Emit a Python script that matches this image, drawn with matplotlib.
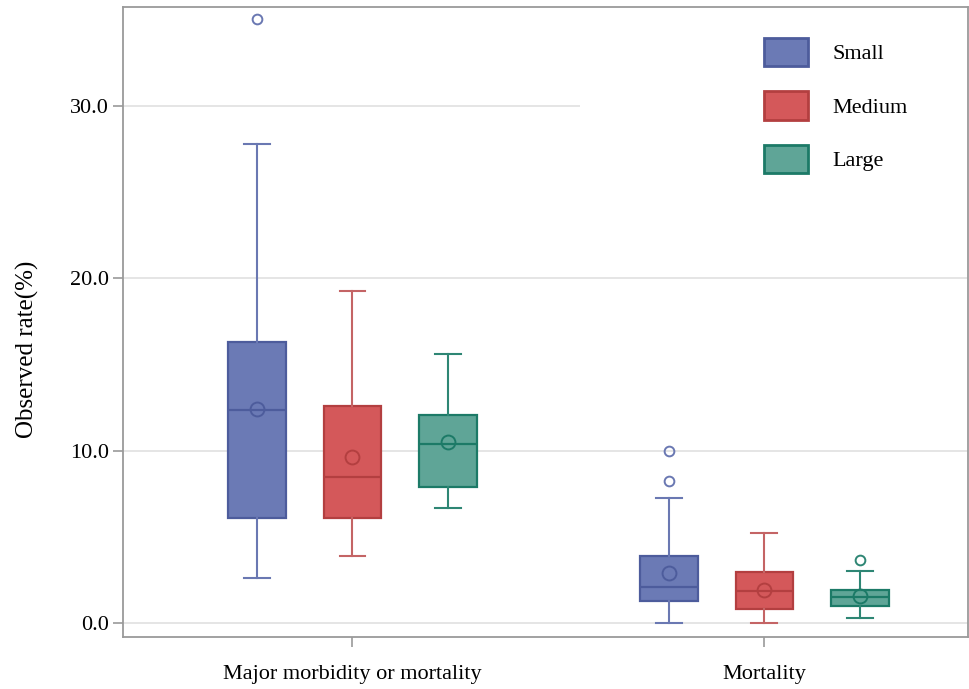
import matplotlib.pyplot as plt
from matplotlib.patches import Patch, Rectangle
import numpy as np

plt.rcParams['font.family'] = ['Liberation Serif', 'DejaVu Serif']

groups = ['Major morbidity or mortality', 'Mortality']
sizes = ['Small', 'Medium', 'Large']

# per size: [major, mortality]
whislo = {'Small': [2.6, 0.0], 'Medium': [3.9, 0.0], 'Large': [6.7, 0.3]}
q1 = {'Small': [6.1, 1.3], 'Medium': [6.1, 0.83], 'Large': [7.9, 0.97]}
med = {'Small': [12.35, 2.09], 'Medium': [8.47, 1.86], 'Large': [10.39, 1.51]}
mean = {'Small': [12.4, 2.92], 'Medium': [9.63, 1.93], 'Large': [10.5, 1.57]}
q3 = {'Small': [16.3, 3.87], 'Medium': [12.6, 2.94], 'Large': [12.07, 1.92]}
whishi = {'Small': [27.8, 7.27], 'Medium': [19.27, 5.22], 'Large': [15.6, 3.02]}
fliers = {'Small': [[35.05], [8.22, 10.0]], 'Medium': [[], []], 'Large': [[], [3.64]]}

fill = {'Small': '#6b7ab5', 'Medium': '#d4585a', 'Large': '#5fa597'}
edge = {'Small': '#4d5c9c', 'Medium': '#b33f40', 'Large': '#1c7a67'}
whisk = {'Small': '#6a78b2', 'Medium': '#c46465', 'Large': '#2e8674'}

fig = plt.figure(figsize=(9.69, 6.89), dpi=100)
ax = fig.add_axes([123/969, 1-637/689, 845/969, 630/689])

offs = [-0.2325, 0, 0.2325]
for k, s in enumerate(sizes):
    stats = []
    for g in range(2):
        stats.append(dict(whislo=whislo[s][g], q1=q1[s][g], med=med[s][g], mean=mean[s][g],
                          q3=q3[s][g], whishi=whishi[s][g], fliers=np.array(fliers[s][g])))
    pos = [g + offs[k] for g in range(2)]
    ax.bxp(stats, positions=pos, widths=0.14, capwidths=0.063, patch_artist=True,
           showmeans=True, manage_ticks=False,
           boxprops=dict(facecolor=fill[s], edgecolor=edge[s], linewidth=1.6),
           medianprops=dict(color=edge[s], linewidth=1.6),
           whiskerprops=dict(color=whisk[s], linewidth=1.5),
           capprops=dict(color=whisk[s], linewidth=1.5),
           meanprops=dict(marker='o', markerfacecolor='none', markeredgecolor=edge[s],
                          markersize=10, markeredgewidth=1.4),
           flierprops=dict(marker='o', markerfacecolor='none', markeredgecolor=whisk[s],
                           markersize=7, markeredgewidth=1.4))

ax.set_xlim(-0.557, 1.494)
ax.set_ylim(-0.81, 35.75)
ax.set_xticks([0, 1])
ax.set_xticklabels(groups, fontsize=16)
ax.set_yticks([0, 10, 20, 30])
ax.set_yticklabels(['0.0', '10.0', '20.0', '30.0'], fontsize=16)
ax.set_ylabel('Observed rate(%)', fontsize=18)
ax.yaxis.set_label_coords(-0.099, 0.456)
ax.yaxis.grid(True, color='#e3e3e3', linewidth=1.3)
ax.set_axisbelow(True)
for sp in ax.spines.values():
    sp.set_color('#9a9a9a')
    sp.set_linewidth(1.3)
ax.tick_params(axis='both', colors='#9a9a9a', labelcolor='black', length=7, width=1.2)
ax.tick_params(axis='x', pad=13)
ax.tick_params(axis='y', pad=3)

# white panel behind the legend
ax.add_patch(Rectangle((0.541, 0.69), 0.459, 0.31, transform=ax.transAxes,
                       facecolor='white', edgecolor='none', zorder=1))

handles = [Patch(facecolor=fill[s], edgecolor=edge[s], linewidth=2, label=s) for s in sizes]
ax.legend(handles=handles, loc='upper left', bbox_to_anchor=(0.759, 0.951), frameon=False,
          fontsize=16, handlelength=1.95, handleheight=1.58, labelspacing=1.14,
          handletextpad=1.1, borderpad=0, borderaxespad=0)

fig.savefig('out.png', dpi=100)
